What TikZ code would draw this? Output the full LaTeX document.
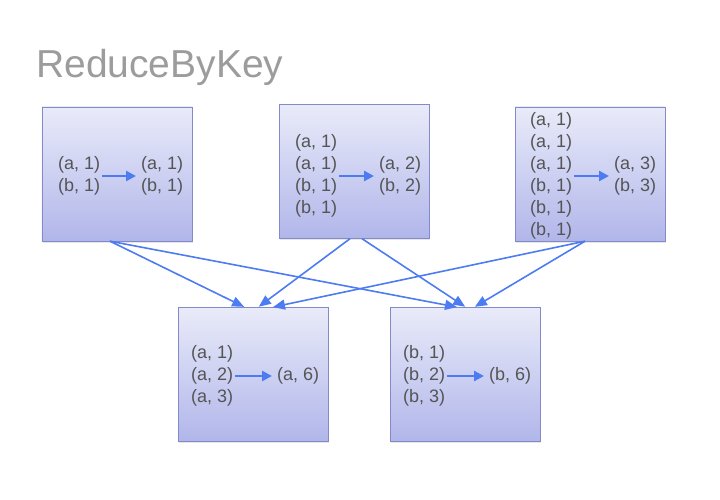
\documentclass[tikz,border=0pt]{standalone}
\usepackage{fontspec}
\setmainfont{Liberation Sans}
\usetikzlibrary{positioning}
\usetikzlibrary{arrows.meta}
\usetikzlibrary{shadows}
\definecolor{boxtop}{HTML}{E9EBF9}
\definecolor{boxbot}{HTML}{B1B6EA}
\definecolor{boxline}{HTML}{8389C9}
\definecolor{flow}{HTML}{4D7CF2}
\definecolor{pairtext}{HTML}{555555}
\definecolor{titletext}{HTML}{9C9C9C}
\tikzset{
partition/.style={ % Sets the look of each partition box
draw=boxline,
top color=boxtop,
bottom color=boxbot,
minimum width=150bp,
minimum height=134bp,
drop shadow={opacity=0.2, shadow xshift=1bp, shadow yshift=-1.5bp}},
pairs/.style={ % Key-value lists inside the boxes
align=left,
inner sep=0pt,
text=pairtext,
font=\fontsize{18bp}{22bp}\selectfont},
every edge/.style={ % Reduce step inside a box
draw=flow,
line width=2.5bp,
-{Triangle[length=10bp,width=10bp]},
shorten <=2bp,
shorten >=5bp},
shuffle/.style={ % Links between the partitions
draw=flow,
line width=1.6bp,
-{Triangle[length=12bp,width=10bp]},
shorten >=1bp}}

\begin{document}
\begin{tikzpicture}[x=1bp, y=-1bp]
\useasboundingbox (0,0) rectangle (720,500);
\node[anchor=base west, inner sep=0pt, text=titletext, font=\fontsize{39bp}{41bp}\selectfont] (title) at (36,78) {ReduceByKey};
\node[partition] (M1) at (117,174) {};
\node[partition] (M2) at (354,171.5) {};
\node[partition] (M3) at (590,174) {};
\node[partition] (R1) at (253,374.5) {};
\node[partition] (R2) at (465,374.5) {};
\node[pairs, anchor=west] (M1in) at (58,176) {(a, 1)\\(b, 1)};
\node[pairs, anchor=west] (M1out) at (141,176) {(a, 1)\\(b, 1)};
\node[pairs, anchor=west] (M2in) at (295,176) {(a, 1)\\(a, 1)\\(b, 1)\\(b, 1)};
\node[pairs, anchor=west] (M2out) at (379,176) {(a, 2)\\(b, 2)};
\node[pairs, anchor=west] (M3in) at (530,176) {(a, 1)\\(a, 1)\\(a, 1)\\(b, 1)\\(b, 1)\\(b, 1)};
\node[pairs, anchor=west] (M3out) at (614,176) {(a, 3)\\(b, 3)};
\node[pairs, anchor=west] (R1in) at (191,376) {(a, 1)\\(a, 2)\\(a, 3)};
\node[pairs, anchor=west] (R1out) at (277,376) {(a, 6)};
\node[pairs, anchor=west] (R2in) at (403,376) {(b, 1)\\(b, 2)\\(b, 3)};
\node[pairs, anchor=west] (R2out) at (489,376) {(b, 6)};
\draw (M1in) edge (M1out);
\draw (M2in) edge (M2out);
\draw (M3in) edge (M3out);
\draw (R1in) edge (R1out);
\draw (R2in) edge (R2out);
\draw[shuffle] ([xshift=-7bp]M1.south) -- ([xshift=-8bp]R1.north);
\draw[shuffle] ([xshift=-7bp]M1.south) -- ([xshift=-7bp]R2.north);
\draw[shuffle] ([xshift=-4bp]M2.south) -- ([xshift=5bp]R1.north);
\draw[shuffle] ([xshift=8bp]M2.south) -- ([xshift=1bp]R2.north);
\draw[shuffle] ([xshift=-5bp]M3.south) -- ([xshift=19bp]R1.north);
\draw[shuffle] ([xshift=-5bp]M3.south) -- ([xshift=9bp]R2.north);
\end{tikzpicture}
\end{document}
